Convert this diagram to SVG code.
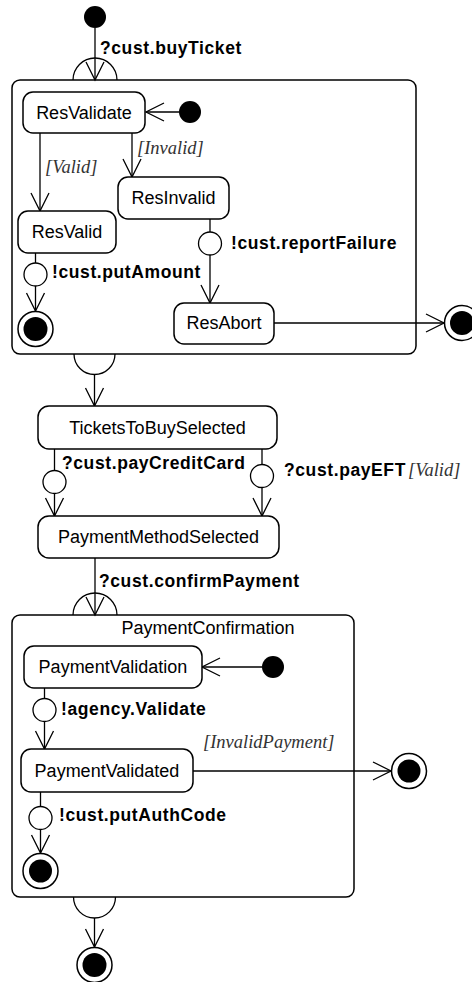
<svg xmlns="http://www.w3.org/2000/svg" width="472" height="982" viewBox="0 0 472 982">
  <style>
    .state { fill: #fff; stroke: #000; stroke-width: 1.5; }
    .comp { fill: none; stroke: #000; stroke-width: 1.5; }
    .line { fill: none; stroke: #000; stroke-width: 1.3; }
    .arrow { fill: none; stroke: #000; stroke-width: 1.3; marker-end: url(#open); }
    .sync { fill: #fff; stroke: #000; stroke-width: 1.3; }
    .dot { fill: #000; }
    .ring { fill: #fff; stroke: #000; stroke-width: 1.5; }
    .name { font-family: "Liberation Sans", Arial, sans-serif; font-size: 18px; text-anchor: middle; fill: #000; }
    .evt { font-family: "Liberation Sans", Arial, sans-serif; font-size: 17.5px; font-weight: bold; letter-spacing: 0.6px; fill: #000; }
    .guard { font-family: "Liberation Serif", "Times New Roman", serif; font-size: 18.5px; font-style: italic; fill: #333; }
  </style>
  <defs>
    <marker id="open" markerUnits="userSpaceOnUse" markerWidth="24" markerHeight="24" viewBox="-20 -12 24 24" refX="0" refY="0" orient="auto" overflow="visible">
      <path d="M-18,-9 L0,0 L-18,9" fill="none" stroke="#000" stroke-width="1.3"/>
    </marker>
  </defs>
  <rect width="472" height="982" fill="#fff"/>

  <!-- composite: reservation -->
  <g id="Reservation">
    <rect class="comp" x="12" y="80" width="404" height="274" rx="8"/>
  </g>
  <!-- composite: payment confirmation -->
  <g id="PaymentConfirmation">
    <rect class="comp" x="12" y="615" width="342" height="282" rx="8"/>
    <text class="name" x="208" y="634">PaymentConfirmation</text>
  </g>

  <!-- connectors -->
  <g id="connectors">
    <!-- entry into reservation -->
    <line class="arrow" x1="95" y1="28" x2="95" y2="80"/>
    <path class="line" d="M73,80 A22,22 0 0 1 117,80"/>
    <text class="evt" x="100" y="54">?cust.buyTicket</text>

    <line class="arrow" x1="179" y1="112" x2="146" y2="112"/>

    <line class="arrow" x1="40" y1="133" x2="40" y2="211"/>
    <text class="guard" x="45" y="173">[Valid]</text>

    <line class="arrow" x1="132" y1="133" x2="132" y2="177"/>
    <text class="guard" x="137" y="154">[Invalid]</text>

    <line class="line" x1="35.5" y1="253" x2="35.5" y2="263"/>
    <circle class="sync" cx="35.5" cy="274.5" r="11.5"/>
    <line class="arrow" x1="35.5" y1="286" x2="35.5" y2="311"/>
    <text class="evt" x="52" y="278">!cust.putAmount</text>

    <line class="line" x1="210" y1="219" x2="210" y2="232"/>
    <circle class="sync" cx="210" cy="243.5" r="11.5"/>
    <line class="arrow" x1="210" y1="255" x2="210" y2="303"/>
    <text class="evt" x="231" y="249">!cust.reportFailure</text>

    <line class="arrow" x1="274" y1="323" x2="444" y2="323"/>

    <!-- exit from reservation -->
    <path class="line" d="M74,354 A20.5,20.5 0 0 0 115,354"/>
    <line class="arrow" x1="94.5" y1="374.5" x2="94.5" y2="406"/>

    <line class="line" x1="54.5" y1="449" x2="54.5" y2="470.5"/>
    <circle class="sync" cx="54.5" cy="482" r="11.5"/>
    <line class="arrow" x1="54.5" y1="493.5" x2="54.5" y2="516"/>
    <text class="evt" x="62" y="469">?cust.payCreditCard</text>

    <line class="line" x1="262" y1="449" x2="262" y2="464.5"/>
    <circle class="sync" cx="262" cy="476" r="11.5"/>
    <line class="arrow" x1="262" y1="487.5" x2="262" y2="516"/>
    <text class="evt" x="284" y="476">?cust.payEFT</text>
    <text class="guard" x="408" y="476" font-size="17px">[Valid]</text>

    <!-- entry into payment confirmation -->
    <line class="arrow" x1="95" y1="558" x2="95" y2="615"/>
    <path class="line" d="M73,615 A22,22 0 0 1 117,615"/>
    <text class="evt" x="99" y="587">?cust.confirmPayment</text>

    <line class="arrow" x1="262" y1="667" x2="202" y2="667"/>

    <line class="line" x1="44.5" y1="688" x2="44.5" y2="698.5"/>
    <circle class="sync" cx="44.5" cy="710" r="11.5"/>
    <line class="arrow" x1="44.5" y1="721.5" x2="44.5" y2="749"/>
    <text class="evt" x="61" y="715">!agency.Validate</text>

    <line class="arrow" x1="193" y1="771" x2="391" y2="771"/>
    <text class="guard" x="203" y="748">[InvalidPayment]</text>

    <line class="line" x1="40.5" y1="792" x2="40.5" y2="806.5"/>
    <circle class="sync" cx="40.5" cy="818" r="11.5"/>
    <line class="arrow" x1="40.5" y1="829.5" x2="40.5" y2="853"/>
    <text class="evt" x="59" y="821">!cust.putAuthCode</text>

    <!-- exit from payment confirmation -->
    <path class="line" d="M73.5,897 A21,21 0 0 0 115.5,897"/>
    <line class="arrow" x1="94.5" y1="918" x2="94.5" y2="947"/>
  </g>

  <!-- pseudo states -->
  <g id="init-top"><circle class="dot" cx="95" cy="17" r="11"/></g>
  <g id="init-reservation"><circle class="dot" cx="190" cy="112" r="11"/></g>
  <g id="init-payment"><circle class="dot" cx="273" cy="667" r="11"/></g>
  <g id="final-resvalid"><circle class="ring" cx="35.5" cy="329" r="17.5"/><circle class="dot" cx="35.5" cy="329" r="12"/></g>
  <g id="final-resabort"><circle class="ring" cx="462" cy="323" r="17.5"/><circle class="dot" cx="462" cy="323" r="12"/></g>
  <g id="final-invalidpayment"><circle class="ring" cx="409" cy="771" r="17.5"/><circle class="dot" cx="409" cy="771" r="11.5"/></g>
  <g id="final-authcode"><circle class="ring" cx="40.5" cy="871" r="17.5"/><circle class="dot" cx="40.5" cy="871" r="11.5"/></g>
  <g id="final-bottom"><circle class="ring" cx="94.5" cy="965" r="17.5"/><circle class="dot" cx="94.5" cy="965" r="12"/></g>

  <!-- simple states -->
  <g id="ResValidate">
    <rect class="state" x="23" y="92" width="122" height="41" rx="10"/>
    <text class="name" x="84" y="119">ResValidate</text>
  </g>
  <g id="ResInvalid">
    <rect class="state" x="118" y="177" width="111" height="42" rx="10"/>
    <text class="name" x="173.5" y="204">ResInvalid</text>
  </g>
  <g id="ResValid">
    <rect class="state" x="18" y="211" width="98" height="42" rx="10"/>
    <text class="name" x="67" y="238">ResValid</text>
  </g>
  <g id="ResAbort">
    <rect class="state" x="174" y="303" width="100" height="41" rx="10"/>
    <text class="name" x="224" y="329">ResAbort</text>
  </g>
  <g id="TicketsToBuySelected">
    <rect class="state" x="38" y="406" width="239" height="43" rx="11"/>
    <text class="name" x="157.5" y="434">TicketsToBuySelected</text>
  </g>
  <g id="PaymentMethodSelected">
    <rect class="state" x="38" y="516" width="241" height="42" rx="11"/>
    <text class="name" x="158.5" y="543">PaymentMethodSelected</text>
  </g>
  <g id="PaymentValidation">
    <rect class="state" x="24" y="646" width="178" height="42" rx="10"/>
    <text class="name" x="113" y="673">PaymentValidation</text>
  </g>
  <g id="PaymentValidated">
    <rect class="state" x="21" y="749" width="172" height="43" rx="10"/>
    <text class="name" x="107" y="777">PaymentValidated</text>
  </g>
</svg>
